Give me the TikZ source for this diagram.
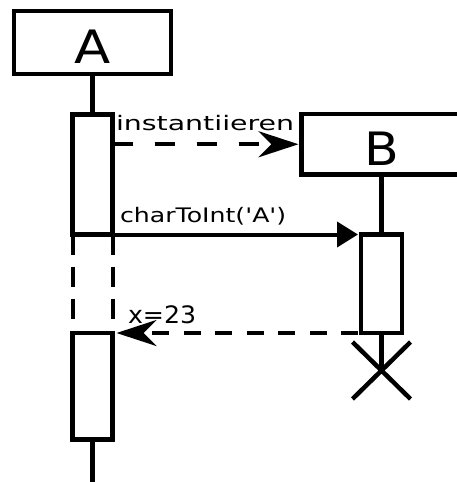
\documentclass[tikz,border=0pt]{standalone}
\usepackage{fontspec}
\usepackage{graphicx}
\newfontfamily\lbl{DejaVu Sans}
\usetikzlibrary{arrows.meta,shapes.misc}
\begin{document}
\begin{tikzpicture}[x=1pt,y=-1pt,
  every node/.style={outer sep=0pt},
  box/.style={draw=black,line width=4.5pt,fill=white,inner sep=0pt,font=\lbl\fontsize{46}{50}\selectfont},
  actbox/.style={draw=black,line width=4.5pt,fill=white,inner sep=0pt,minimum width=40pt},
  life/.style={line width=4.5pt},
  gapline/.style={line width=4pt,dash pattern=on 20pt off 12pt},
  msg/.style={line width=4pt},
  msglabel/.style={inner sep=0pt,anchor=base west,font=\lbl\fontsize{20}{24}\selectfont},
  stk/.tip={Stealth[length=40pt,width=26pt,inset=13pt]},
  tri/.tip={Triangle[length=21pt,width=25pt]}
  ]
\useasboundingbox (0,0) rectangle (456,482);
% lifeline heads
\node[box,minimum width=157pt,minimum height=63pt,text height=41pt,text depth=0pt] (A) at (92.5,42.5) {\scalebox{1.15}[1]{A}};
\node[box,minimum width=160pt,minimum height=60.5pt,text height=41.5pt,text depth=0pt] (B) at (381.5,144.25) {\scalebox{1.1}[1]{B}};
% activations
\coordinate (Aend) at (92.5,486);
\draw[life] (A.south) -- (92.5,114.5);
\draw[life] (92.5,439.5) -- (Aend);
\node[actbox,minimum height=120pt] (A1) at (92.5,174.5) {};
\node[actbox,minimum height=106.5pt] (A2) at (92.5,386.25) {};
\draw[life] (B.south) -- (381.5,234.5);
\node[actbox,minimum width=41pt,minimum height=98.5pt] (B1) at (381.5,283.75) {};
\node[draw,cross out,line width=4.5pt,minimum width=58pt,minimum height=57pt,inner sep=0pt] (X) at (381.5,370.5) {};
\draw[life] (B1.south) -- (X.center);
% suspended activation of A
\draw[gapline] (A1.south west) -- (A2.north west);
\draw[gapline] (A1.south east) -- (A2.north east);
% messages
\draw[msg,dash pattern=on 20pt off 22pt,-stk,shorten >=3pt] (A1.east |- B.west) -- (B.west);
\node[msglabel,xscale=1.42] (m1) at (116,130) {instantiieren};
\draw[msg,-tri,shorten >=3pt] (A1.south west) -- (B1.north west);
\node[msglabel,xscale=1.26] (m2) at (120,222) {charToInt('A')};
\draw[msg,dash pattern=on 17pt off 14.5pt,dash phase=28.5pt,-stk,shorten >=4pt] (B1.south west) -- (A2.north east);
\node[msglabel,font=\lbl\fontsize{24}{28}\selectfont,xscale=1.05] (m3) at (128,323) {x=23};
\end{tikzpicture}
\end{document}
